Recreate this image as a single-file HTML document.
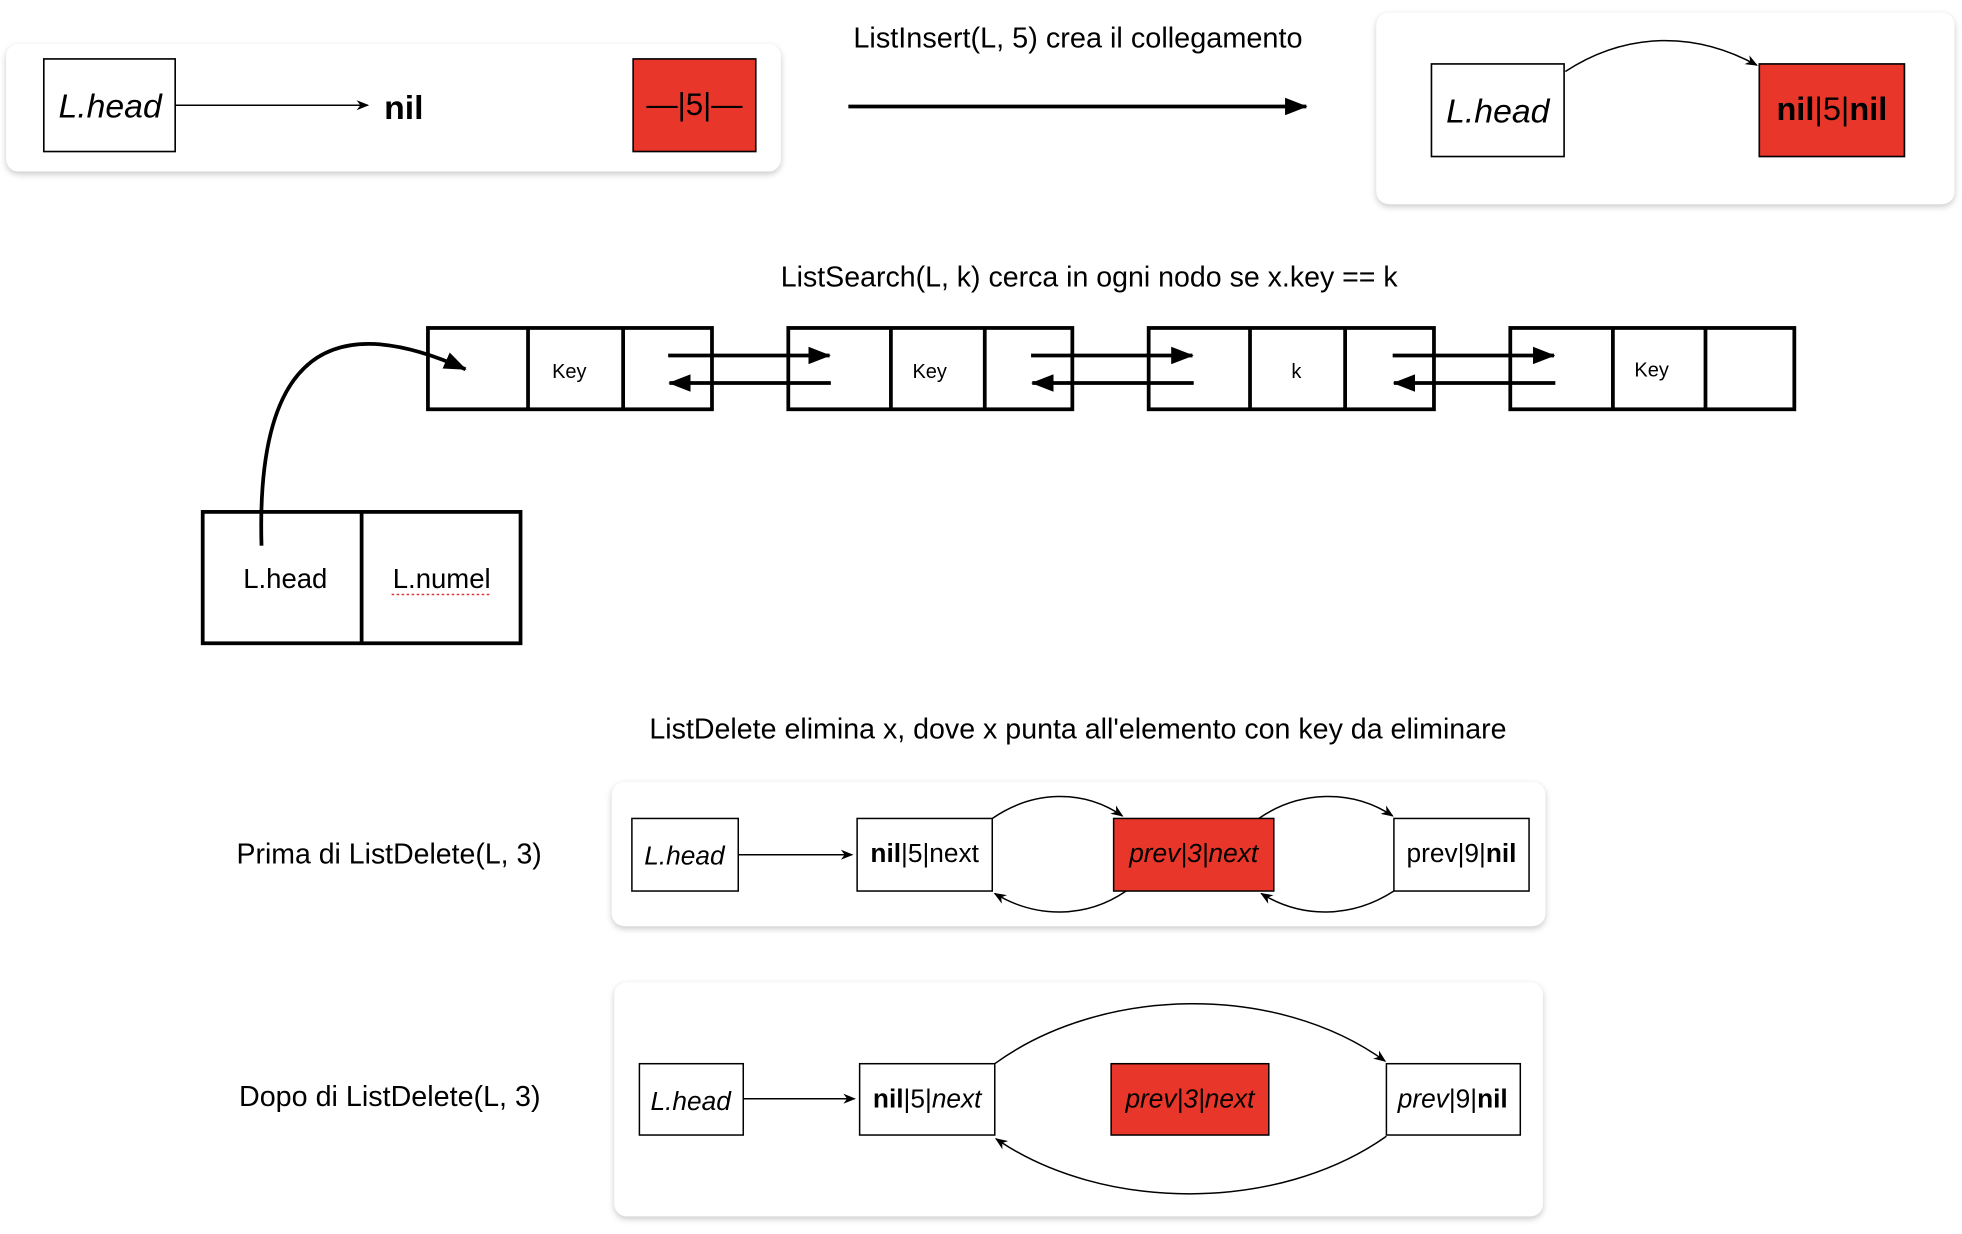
<!DOCTYPE html>
<html><head><meta charset="utf-8"><style>
html,body{margin:0;padding:0;background:#fff}
svg{display:block}
text{font-family:"Liberation Sans",sans-serif;fill:#000}
.i{font-style:italic}
.b{font-weight:bold}
</style></head><body>
<svg width="1962" height="1234" viewBox="0 0 1568 986" xmlns="http://www.w3.org/2000/svg">
<defs>
<filter id="sh" x="-5%" y="-20%" width="110%" height="150%"><feDropShadow dx="0" dy="2" stdDeviation="2.5" flood-color="#000" flood-opacity="0.22"/></filter>
<marker id="a" markerWidth="10" markerHeight="8" refX="9" refY="4" orient="auto" markerUnits="userSpaceOnUse"><path d="M0,0 L10,4 L0,8 L3,4 z" fill="#000"/></marker>
<marker id="A" markerWidth="18" markerHeight="14" refX="17" refY="7" orient="auto" markerUnits="userSpaceOnUse"><path d="M0,0 L18,7 L0,14 z" fill="#000"/></marker>
</defs>
<rect width="1568" height="986" fill="#fff"/>

<!-- Panel 1 -->
<rect x="5" y="35" width="619" height="102" rx="10" fill="#fff" filter="url(#sh)"/>
<rect x="35" y="47" width="105" height="74" fill="#fff" stroke="#000" stroke-width="1.3"/>
<text x="88" y="94" font-size="27" text-anchor="middle" class="i">L.head</text>
<line x1="140" y1="84" x2="294" y2="84" stroke="#000" stroke-width="1.2" marker-end="url(#a)"/>
<text x="307" y="95" font-size="27" class="b">nil</text>
<rect x="506" y="47" width="98" height="74" fill="#e8362a" stroke="#000" stroke-width="1.3"/>
<text x="555" y="92" font-size="25" text-anchor="middle">—|5|—</text>

<text x="682" y="38" font-size="23" textLength="359" lengthAdjust="spacingAndGlyphs">ListInsert(L, 5) crea il collegamento</text>
<line x1="678" y1="85" x2="1044" y2="85" stroke="#000" stroke-width="3" marker-end="url(#A)"/>

<!-- Panel 2 -->
<rect x="1100" y="10" width="462" height="153" rx="10" fill="#fff" filter="url(#sh)"/>
<rect x="1144" y="51" width="106" height="74" fill="#fff" stroke="#000" stroke-width="1.3"/>
<text x="1197" y="98" font-size="27" text-anchor="middle" class="i">L.head</text>
<rect x="1406" y="51" width="116" height="74" fill="#e8362a" stroke="#000" stroke-width="1.3"/>
<text x="1464" y="96" font-size="26" text-anchor="middle"><tspan class="b">nil</tspan>|5|<tspan class="b">nil</tspan></text>
<path d="M1251,57 C1300,25 1355,25 1404,52" fill="none" stroke="#000" stroke-width="1.2" marker-end="url(#a)"/>

<!-- ListSearch -->
<text x="624" y="229" font-size="23" textLength="493" lengthAdjust="spacingAndGlyphs">ListSearch(L, k) cerca in ogni nodo se x.key == k</text>
<g fill="none" stroke="#000" stroke-width="3">
<rect x="342" y="262" width="227" height="65"/><line x1="422" y1="262" x2="422" y2="327"/><line x1="498" y1="262" x2="498" y2="327"/>
<rect x="630" y="262" width="227" height="65"/><line x1="712" y1="262" x2="712" y2="327"/><line x1="787" y1="262" x2="787" y2="327"/>
<rect x="918" y="262" width="228" height="65"/><line x1="999" y1="262" x2="999" y2="327"/><line x1="1075" y1="262" x2="1075" y2="327"/>
<rect x="1207" y="262" width="227" height="65"/><line x1="1289" y1="262" x2="1289" y2="327"/><line x1="1363" y1="262" x2="1363" y2="327"/>
</g>
<text x="455" y="302" font-size="16" text-anchor="middle">Key</text>
<text x="743" y="302" font-size="16" text-anchor="middle">Key</text>
<text x="1036" y="302" font-size="16" text-anchor="middle">k</text>
<text x="1320" y="301" font-size="16" text-anchor="middle">Key</text>
<g stroke="#000" stroke-width="3">
<line x1="534" y1="284" x2="663" y2="284" marker-end="url(#A)"/>
<line x1="664" y1="306" x2="535" y2="306" marker-end="url(#A)"/>
<line x1="824" y1="284" x2="953" y2="284" marker-end="url(#A)"/>
<line x1="954" y1="306" x2="825" y2="306" marker-end="url(#A)"/>
<line x1="1113" y1="284" x2="1242" y2="284" marker-end="url(#A)"/>
<line x1="1243" y1="306" x2="1114" y2="306" marker-end="url(#A)"/>
</g>
<path d="M209,436 C205,300 250,240 372,295" fill="none" stroke="#000" stroke-width="3" marker-end="url(#A)"/>
<rect x="162" y="409" width="254" height="105" fill="none" stroke="#000" stroke-width="3"/>
<line x1="289" y1="409" x2="289" y2="514" stroke="#000" stroke-width="3"/>
<text x="228" y="470" font-size="22" text-anchor="middle">L.head</text>
<text x="353" y="470" font-size="22" text-anchor="middle">L.numel</text>
<line x1="313" y1="475" x2="393" y2="475" stroke="#d33" stroke-width="1.2" stroke-dasharray="2,2"/>

<!-- ListDelete -->
<text x="519" y="590" font-size="23" textLength="685" lengthAdjust="spacingAndGlyphs">ListDelete elimina x, dove x punta all'elemento con key da eliminare</text>

<rect x="489" y="625" width="746" height="115" rx="10" fill="#fff" filter="url(#sh)"/>
<text x="189" y="690" font-size="23" textLength="244" lengthAdjust="spacingAndGlyphs">Prima di ListDelete(L, 3)</text>
<rect x="505" y="654" width="85" height="58" fill="#fff" stroke="#000" stroke-width="1.2"/>
<text x="547" y="691" font-size="21" text-anchor="middle" class="i">L.head</text>
<line x1="590" y1="683" x2="681" y2="683" stroke="#000" stroke-width="1.2" marker-end="url(#a)"/>
<rect x="685" y="654" width="108" height="58" fill="#fff" stroke="#000" stroke-width="1.2"/>
<text x="739" y="689" font-size="21" text-anchor="middle"><tspan class="b">nil</tspan>|5|next</text>
<rect x="890" y="654" width="128" height="58" fill="#e8362a" stroke="#000" stroke-width="1.2"/>
<text x="954" y="689" font-size="21" text-anchor="middle" class="i">prev|3|next</text>
<rect x="1114" y="654" width="108" height="58" fill="#fff" stroke="#000" stroke-width="1.2"/>
<text x="1168" y="689" font-size="21" text-anchor="middle">prev|9|<tspan class="b">nil</tspan></text>
<g fill="none" stroke="#000" stroke-width="1.2">
<path d="M793,654 C825,632 865,630 897,652" marker-end="url(#a)"/>
<path d="M900,712 C868,734 828,734 795,714" marker-end="url(#a)"/>
<path d="M1006,654 C1038,632 1080,630 1113,652" marker-end="url(#a)"/>
<path d="M1114,712 C1080,734 1040,734 1008,714" marker-end="url(#a)"/>
</g>

<rect x="491" y="785" width="742" height="187" rx="10" fill="#fff" filter="url(#sh)"/>
<text x="191" y="884" font-size="23" textLength="241" lengthAdjust="spacingAndGlyphs">Dopo di ListDelete(L, 3)</text>
<rect x="511" y="850" width="83" height="57" fill="#fff" stroke="#000" stroke-width="1.2"/>
<text x="552" y="887" font-size="21" text-anchor="middle" class="i">L.head</text>
<line x1="594" y1="878" x2="683" y2="878" stroke="#000" stroke-width="1.2" marker-end="url(#a)"/>
<rect x="687" y="850" width="108" height="57" fill="#fff" stroke="#000" stroke-width="1.2"/>
<text x="741" y="885" font-size="21" text-anchor="middle"><tspan class="b">nil</tspan>|5|<tspan class="i">next</tspan></text>
<rect x="888" y="850" width="126" height="57" fill="#e8362a" stroke="#000" stroke-width="1.2"/>
<text x="951" y="885" font-size="21" text-anchor="middle" class="i">prev|3|next</text>
<rect x="1108" y="850" width="107" height="57" fill="#fff" stroke="#000" stroke-width="1.2"/>
<text x="1161" y="885" font-size="21" text-anchor="middle"><tspan class="i">prev</tspan>|9|<tspan class="b">nil</tspan></text>
<g fill="none" stroke="#000" stroke-width="1.2">
<path d="M795,850 C880,788 1020,785 1107,848" marker-end="url(#a)"/>
<path d="M1108,908 C1020,970 880,968 796,910" marker-end="url(#a)"/>
</g>
</svg>
</body></html>
